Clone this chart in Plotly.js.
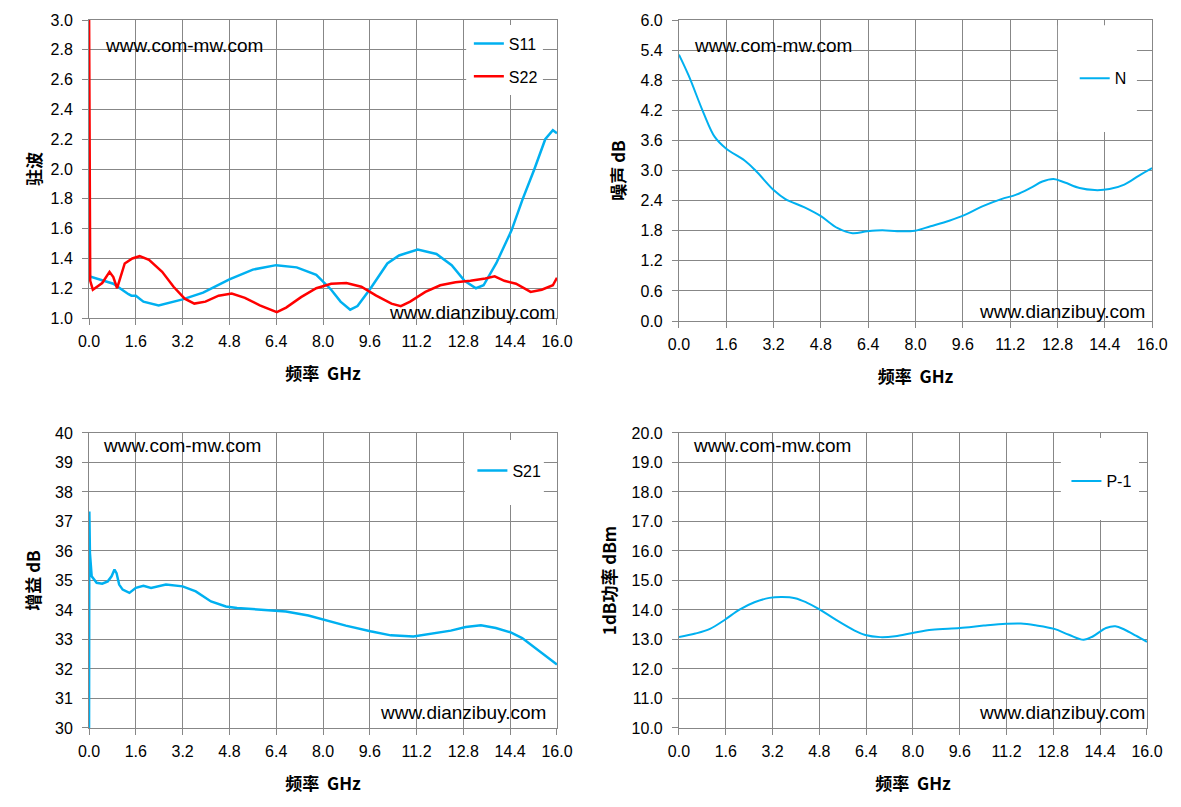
<!DOCTYPE html>
<html>
<head>
<meta charset="utf-8">
<script src="https://cdn.plot.ly/plotly-3.0.1.min.js"></script>
<style>
  html, body { margin: 0; padding: 0; background: #fff; }
  #chart { width: 1181px; height: 807px; }
</style>
</head>
<body>
<div id="chart"></div>
<script>
// frequency ticks shared by all four plots
var freqTicks = [0, 1.6, 3.2, 4.8, 6.4, 8.0, 9.6, 11.2, 12.8, 14.4, 16.0];
var freqLabels = ['0.0', '1.6', '3.2', '4.8', '6.4', '8.0', '9.6', '11.2', '12.8', '14.4', '16.0'];

// VSWR (top left)
var vswrTicks = [1.0, 1.2, 1.4, 1.6, 1.8, 2.0, 2.2, 2.4, 2.6, 2.8, 3.0];
var vswrLabels = ['1.0', '1.2', '1.4', '1.6', '1.8', '2.0', '2.2', '2.4', '2.6', '2.8', '3.0'];
var s11Freq = [0, 0.83, 1.35, 1.45, 1.6, 1.86, 2.38, 3.2, 3.9, 4.8, 5.6, 6.4, 7.1, 7.77, 8.28, 8.6, 8.93, 9.18, 9.63, 10.2, 10.6, 11.24, 11.88, 12.4, 12.84, 13.23, 13.49, 13.93, 14.45, 14.83, 15.22, 15.6, 15.86, 16.0];
var s11 = [1.28, 1.23, 1.16, 1.15, 1.15, 1.11, 1.085, 1.125, 1.17, 1.26, 1.325, 1.355, 1.34, 1.29, 1.19, 1.11, 1.056, 1.08, 1.20, 1.366, 1.42, 1.46, 1.43, 1.355, 1.25, 1.20, 1.22, 1.37, 1.59, 1.80, 1.995, 2.20, 2.26, 2.24];
var s22Freq = [0, 0.04, 0.13, 0.45, 0.7, 0.83, 0.96, 1.22, 1.48, 1.73, 2.05, 2.5, 2.89, 3.27, 3.6, 3.98, 4.43, 4.88, 5.33, 5.84, 6.42, 6.74, 7.25, 7.77, 8.28, 8.8, 9.31, 9.82, 10.34, 10.66, 10.98, 11.5, 12.01, 12.53, 13.04, 13.55, 13.87, 14.2, 14.6, 14.9, 15.1, 15.48, 15.86, 16.0];
var s22 = [3.1, 1.25, 1.19, 1.235, 1.31, 1.275, 1.20, 1.366, 1.40, 1.415, 1.39, 1.31, 1.21, 1.13, 1.097, 1.11, 1.15, 1.165, 1.135, 1.085, 1.04, 1.07, 1.14, 1.20, 1.23, 1.235, 1.21, 1.15, 1.097, 1.08, 1.11, 1.175, 1.22, 1.24, 1.25, 1.265, 1.28, 1.25, 1.23, 1.20, 1.175, 1.19, 1.22, 1.27];

// noise figure (top right)
var nfTicks = [0, 0.6, 1.2, 1.8, 2.4, 3.0, 3.6, 4.2, 4.8, 5.4, 6.0];
var nfLabels = ['0.0', '0.6', '1.2', '1.8', '2.4', '3.0', '3.6', '4.2', '4.8', '5.4', '6.0'];
var nfFreq = [0, 0.33, 0.83, 1.21, 1.59, 2.22, 2.59, 3.22, 3.6, 4.23, 4.8, 5.37, 5.87, 6.37, 6.88, 7.38, 7.98, 8.51, 9.14, 9.65, 10.28, 10.9, 11.41, 11.91, 12.29, 12.67, 13.05, 13.55, 14.06, 14.56, 15.06, 15.56, 16.0];
var nf = [5.31, 4.89, 4.15, 3.67, 3.44, 3.20, 3.0, 2.60, 2.43, 2.27, 2.09, 1.85, 1.75, 1.79, 1.81, 1.79, 1.80, 1.89, 2.0, 2.11, 2.29, 2.43, 2.52, 2.66, 2.78, 2.83, 2.76, 2.65, 2.61, 2.63, 2.72, 2.90, 3.05];

// gain (bottom left)
var gainTicks = [30, 31, 32, 33, 34, 35, 36, 37, 38, 39, 40];
var gainLabels = ['30', '31', '32', '33', '34', '35', '36', '37', '38', '39', '40'];
var s21Freq = [0, 0.01, 0.03, 0.09, 0.26, 0.45, 0.64, 0.77, 0.87, 0.94, 1.03, 1.15, 1.38, 1.6, 1.86, 2.12, 2.63, 3.2, 3.65, 4.17, 4.68, 5.06, 5.96, 6.73, 7.5, 8.01, 8.78, 9.62, 10.32, 11.09, 11.73, 12.37, 12.88, 13.4, 13.91, 14.42, 14.81, 15.19, 15.58, 16.0];
var s21 = [30, 37.34, 35.93, 35.14, 34.92, 34.89, 34.97, 35.14, 35.37, 35.25, 34.86, 34.69, 34.58, 34.75, 34.82, 34.75, 34.86, 34.8, 34.63, 34.29, 34.12, 34.07, 34.01, 33.95, 33.81, 33.67, 33.47, 33.28, 33.14, 33.10, 33.2, 33.3, 33.42, 33.48, 33.39, 33.24, 33.05, 32.77, 32.49, 32.15];

// P-1dB (bottom right)
var p1Ticks = [10, 11, 12, 13, 14, 15, 16, 17, 18, 19, 20];
var p1Labels = ['10.0', '11.0', '12.0', '13.0', '14.0', '15.0', '16.0', '17.0', '18.0', '19.0', '20.0'];
var p1Freq = [0, 0.56, 1.06, 1.57, 2.07, 2.58, 3.09, 3.53, 3.97, 4.35, 4.79, 5.36, 5.99, 6.37, 6.88, 7.39, 7.99, 8.65, 9.6, 10.42, 11.18, 11.69, 12.19, 12.83, 13.33, 13.84, 14.16, 14.6, 14.92, 15.24, 15.62, 16.0];
var p1 = [13.08, 13.2, 13.36, 13.67, 14.01, 14.26, 14.41, 14.44, 14.40, 14.26, 14.03, 13.67, 13.31, 13.15, 13.08, 13.11, 13.22, 13.33, 13.39, 13.47, 13.53, 13.54, 13.48, 13.36, 13.16, 12.99, 13.11, 13.39, 13.45, 13.33, 13.13, 12.92];

var BLUE = '#00b0f0';
var RED = '#ff0000';
var GRID = '#878787';
var TICKFONT = {family: 'Liberation Sans, Arial, sans-serif', size: 16, color: '#000'};
var TITLEFONT = {family: 'Noto Sans CJK SC, sans-serif', size: 17, color: '#000', weight: 'bold'};

function xAxis(domain, anchor) {
  return {
    domain: domain, anchor: anchor, range: [0, 16],
    tickmode: 'array', tickvals: freqTicks, ticktext: freqLabels,
    showgrid: true, gridcolor: GRID, gridwidth: 1, zeroline: false,
    showline: true, linecolor: GRID, linewidth: 1, mirror: true,
    ticks: 'outside', ticklen: 6, tickcolor: GRID, ticklabelstandoff: 3,
    tickfont: TICKFONT,
    title: {text: '频率 \u00a0GHz', font: TITLEFONT, standoff: 18}
  };
}
function yAxis(domain, anchor, range, vals, labels, title, standoff) {
  return {
    domain: domain, anchor: anchor, range: range,
    tickmode: 'array', tickvals: vals, ticktext: labels,
    showgrid: true, gridcolor: GRID, gridwidth: 1, zeroline: false,
    showline: true, linecolor: GRID, linewidth: 1, mirror: true,
    ticks: 'outside', ticklen: 6, tickcolor: GRID, ticklabelstandoff: 6,
    tickfont: TICKFONT,
    title: {text: title, font: TITLEFONT, standoff: standoff}
  };
}

var traces = [
  {x: s11Freq, y: s11, name: 'S11', xaxis: 'x', yaxis: 'y', mode: 'lines',
   line: {color: BLUE, width: 2.5}, legend: 'legend', legendgroup: 'a'},
  {x: s22Freq, y: s22, name: 'S22', xaxis: 'x', yaxis: 'y', mode: 'lines',
   line: {color: RED, width: 2.5}, legend: 'legend', legendgroup: 'b'},
  {x: nfFreq, y: nf, name: 'N', xaxis: 'x2', yaxis: 'y2', mode: 'lines',
   line: {color: BLUE, width: 2, shape: 'spline', smoothing: 1}, legend: 'legend2'},
  {x: s21Freq, y: s21, name: 'S21', xaxis: 'x3', yaxis: 'y3', mode: 'lines',
   line: {color: BLUE, width: 2.5}, legend: 'legend3'},
  {x: p1Freq, y: p1, name: 'P-1', xaxis: 'x4', yaxis: 'y4', mode: 'lines',
   line: {color: BLUE, width: 2, shape: 'spline', smoothing: 1}, legend: 'legend4'}
];

function legendAt(x, y, gap) {
  return {x: x, y: y, xanchor: 'left', yanchor: 'top', bgcolor: 'rgba(0,0,0,0)',
          borderwidth: 0, font: TICKFONT, tracegroupgap: gap || 0, itemwidth: 30};
}

function wmark(xa, ya, text, x, y, anchor) {
  return {xref: xa + ' domain', yref: ya + ' domain', x: x, y: y, text: text,
          showarrow: false, xanchor: anchor, yanchor: 'middle',
          font: {family: 'Liberation Sans, Arial, sans-serif', size: 19, color: '#000'}};
}

// white boxes behind the legends, hiding the grid like the original
function legendBox(xa, ya, x0, x1, y0, y1) {
  return {type: 'rect', xref: xa + ' domain', yref: ya + ' domain', x0: x0, x1: x1, y0: y0, y1: y1,
          fillcolor: '#fff', line: {width: 0}, layer: 'above'};
}

var layout = {
  width: 1181, height: 807,
  margin: {l: 0, r: 0, t: 0, b: 0},
  paper_bgcolor: '#fff', plot_bgcolor: '#fff',
  showlegend: true,
  xaxis: xAxis([0.0754, 0.4716], 'y'),
  yaxis: yAxis([0.6059, 0.9752], 'x', [1.0, 3.0], vswrTicks, vswrLabels, '驻波', 4),
  xaxis2: xAxis([0.5749, 0.9755], 'y2'),
  yaxis2: yAxis([0.6022, 0.9752], 'x2', [0, 6], nfTicks, nfLabels, '噪声 dB', 10),
  xaxis3: xAxis([0.0754, 0.4716], 'y3'),
  yaxis3: yAxis([0.0979, 0.4635], 'x3', [30, 40], gainTicks, gainLabels, '增益 dB', 10),
  xaxis4: xAxis([0.5749, 0.9712], 'y4'),
  yaxis4: yAxis([0.0979, 0.4635], 'x4', [10, 20], p1Ticks, p1Labels, '1dB功率 dBm', 10),
  legend: legendAt(0.397, 0.967, 9),
  legend2: legendAt(0.910, 0.924),
  legend3: legendAt(0.400, 0.438),
  legend4: legendAt(0.903, 0.425),
  shapes: [
    legendBox('x', 'y', 0.806, 0.970, 0.748, 0.983),
    legendBox('x2', 'y2', 0.801, 0.968, 0.628, 0.983),
    legendBox('x3', 'y3', 0.803, 0.972, 0.756, 0.976),
    legendBox('x4', 'y4', 0.816, 0.983, 0.705, 0.983)
  ],
  annotations: [
    wmark('x', 'y', 'www.com-mw.com', 0.03, 0.913, 'left'),
    wmark('x', 'y', 'www.dianzibuy.com', 1.0, 0.02, 'right'),
    wmark('x2', 'y2', 'www.com-mw.com', 0.027, 0.914, 'left'),
    wmark('x2', 'y2', 'www.dianzibuy.com', 0.989, 0.033, 'right'),
    wmark('x3', 'y3', 'www.com-mw.com', 0.026, 0.956, 'left'),
    wmark('x3', 'y3', 'www.dianzibuy.com', 0.981, 0.054, 'right'),
    wmark('x4', 'y4', 'www.com-mw.com', 0.026, 0.956, 'left'),
    wmark('x4', 'y4', 'www.dianzibuy.com', 1.0, 0.054, 'right')
  ]
};

Plotly.newPlot('chart', traces, layout, {displayModeBar: false, staticPlot: true});
</script>
</body>
</html>
